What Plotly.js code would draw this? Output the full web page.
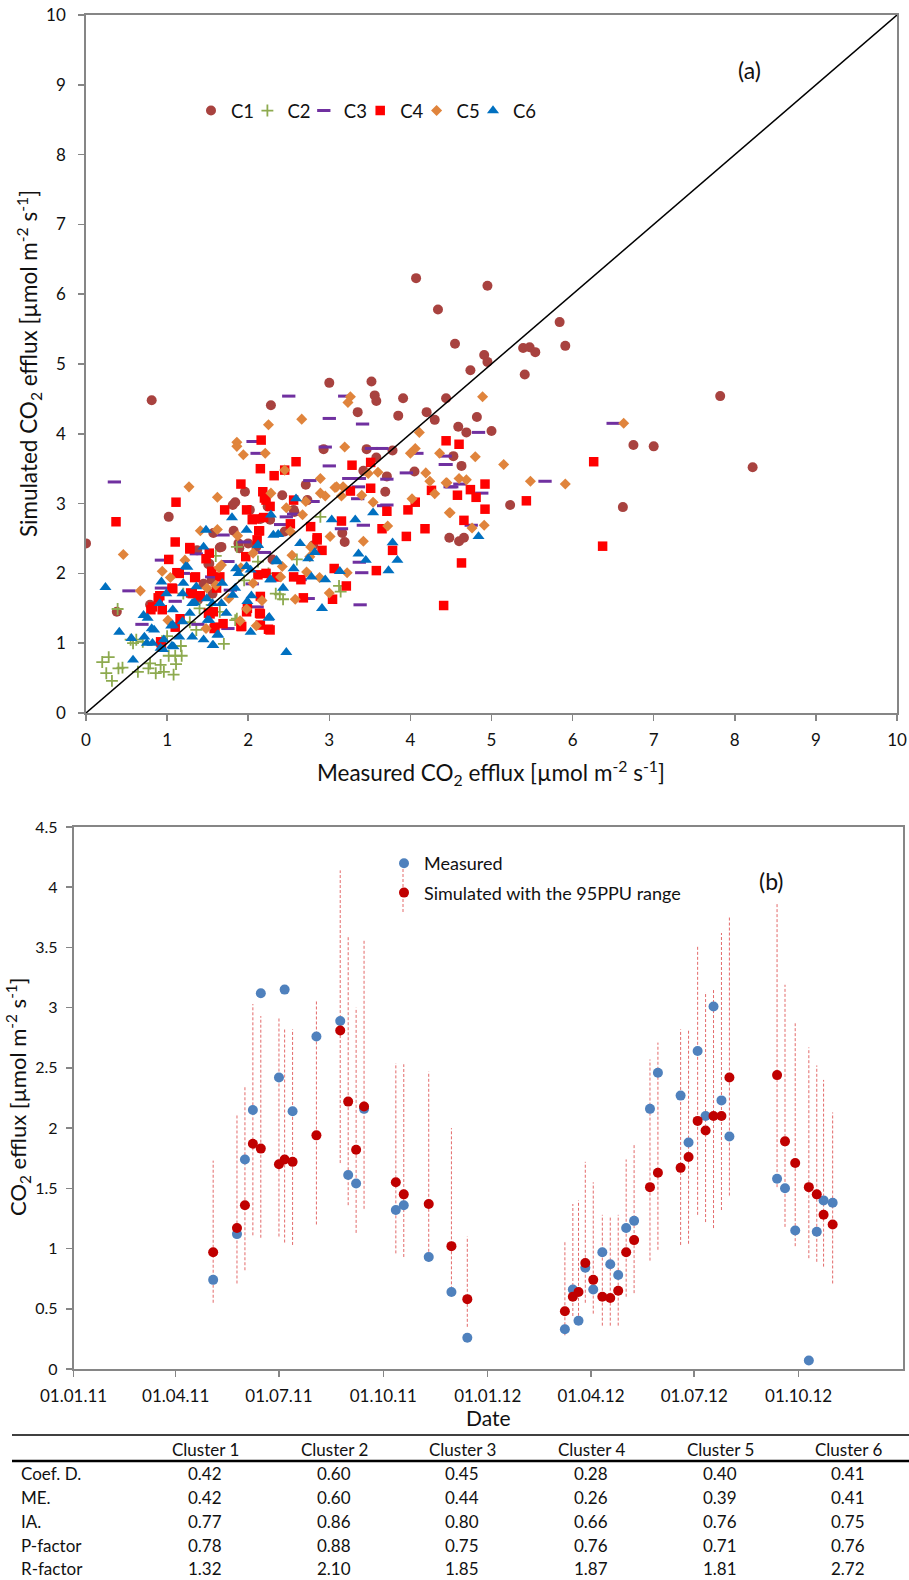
<!DOCTYPE html>
<html>
<head>
<meta charset="utf-8">
<script src="https://cdn.plot.ly/plotly-3.0.1.min.js"></script>
<style>
  html, body { margin: 0; padding: 0; background: #ffffff; }
  #chart { width: 909px; height: 1580px; }
</style>
</head>
<body>
<div id="chart"></div>
<script>
// ---------------- Panel (a): simulated vs measured, per cluster ----------------
const c1Points = [[0.00,2.43],[0.81,4.48],[0.38,1.45],[4.07,6.23],[4.34,5.78],[4.95,6.12],[4.55,5.29],[5.84,5.60],[5.91,5.26],[5.39,5.23],[5.47,5.24],[5.54,5.17],[5.41,4.85],[4.91,5.13],[4.95,5.03],[4.74,4.91],[7.82,4.54],[4.44,4.51],[3.00,4.73],[3.52,4.75],[3.56,4.55],[3.58,4.47],[3.91,4.51],[2.28,4.41],[3.35,4.31],[3.85,4.26],[4.20,4.31],[4.30,4.20],[4.82,4.24],[4.59,4.10],[4.69,4.02],[5.00,4.04],[6.75,3.84],[7.00,3.82],[8.22,3.52],[4.53,3.68],[4.63,3.54],[5.23,2.98],[6.62,2.95],[4.48,2.51],[4.60,2.46],[4.66,2.51],[2.93,3.78],[3.46,3.78],[3.58,3.66],[3.78,3.76],[4.05,3.46],[3.71,3.39],[3.69,3.17],[2.71,3.27],[2.42,3.12],[1.96,3.17],[1.81,2.98],[1.84,3.02],[1.02,2.81],[2.56,2.91],[2.73,3.05],[3.16,2.58],[3.19,2.45],[1.65,2.37],[1.82,2.61],[1.88,2.43],[1.57,2.58],[1.51,2.13],[1.55,1.91],[2.00,2.43],[2.10,2.38],[2.15,2.78],[2.27,2.77],[3.42,3.47],[2.57,2.88],[2.02,2.91],[1.67,2.38],[2.24,2.96],[1.56,1.71],[1.37,2.33],[0.79,1.55],[1.52,2.14],[1.89,2.36],[1.45,1.85],[2.30,2.20],[2.80,2.40],[2.45,2.60],[1.38,1.62]];
const c2Points = [[0.20,0.73],[0.28,0.80],[0.25,0.57],[0.32,0.46],[0.40,0.64],[0.45,0.65],[0.39,1.49],[0.58,1.00],[0.62,1.05],[0.55,1.05],[0.64,0.59],[0.77,0.64],[0.79,0.71],[0.86,0.57],[0.96,0.59],[0.92,0.69],[1.02,0.82],[1.10,0.82],[1.18,0.82],[1.08,0.55],[1.11,0.70],[1.17,0.96],[1.36,1.19],[1.70,0.99],[1.86,1.35],[2.43,1.63],[2.39,1.70],[3.12,1.82],[3.14,1.74],[2.89,2.81],[2.12,2.17],[1.20,1.71],[1.86,2.38],[0.70,1.02],[1.84,1.33],[1.55,1.55],[1.95,1.90],[2.25,2.00],[1.65,1.45],[1.40,1.50],[2.34,1.71],[1.00,1.10],[1.28,1.30],[2.60,2.20],[1.60,2.25]];
const c3Points = [[0.35,3.31],[0.53,1.75],[2.50,4.54],[3.19,4.54],[3.00,4.22],[3.41,4.14],[2.06,3.89],[2.11,3.72],[2.95,3.81],[3.52,3.79],[3.65,3.79],[3.00,3.54],[3.37,3.36],[3.71,3.35],[3.95,3.44],[4.08,3.72],[4.44,3.56],[4.49,3.24],[2.76,3.33],[2.80,3.03],[3.42,2.69],[3.37,2.16],[3.40,2.01],[3.38,1.55],[2.47,2.81],[2.40,2.70],[1.69,2.55],[1.75,2.17],[1.36,2.28],[0.93,2.19],[0.93,1.79],[0.69,1.27],[1.38,1.27],[1.75,1.21],[2.11,1.52],[1.78,1.76],[2.31,1.91],[2.64,1.91],[2.74,1.64],[3.71,2.98],[6.50,4.15],[4.84,4.02],[4.43,3.68],[4.43,3.56],[4.51,3.24],[4.61,3.28],[5.66,3.32],[4.88,3.15],[4.75,2.69],[3.24,3.36],[3.36,3.24],[3.35,3.07],[3.67,2.97],[3.15,2.64],[2.56,2.85],[1.95,2.45],[1.20,2.00],[1.55,1.95],[2.20,2.30],[1.10,1.60],[2.05,1.85]];
const c4Points = [[0.37,2.74],[1.11,3.02],[1.10,2.45],[1.02,2.20],[1.28,2.35],[1.12,2.01],[1.07,1.78],[1.35,1.95],[1.29,1.72],[1.41,1.68],[1.55,2.03],[1.52,2.29],[0.89,1.65],[0.82,1.52],[0.94,1.48],[0.93,1.00],[1.10,1.23],[1.16,1.35],[1.51,1.43],[1.59,1.23],[1.53,1.42],[1.71,2.91],[1.91,3.28],[1.98,2.91],[2.16,3.91],[2.15,3.50],[2.18,3.17],[2.20,3.08],[2.27,2.96],[2.08,2.78],[2.19,2.80],[2.13,2.61],[2.11,2.48],[1.97,2.24],[2.32,3.40],[2.45,3.48],[2.59,3.60],[2.52,2.71],[2.56,3.05],[2.77,2.67],[2.85,2.51],[2.91,2.33],[3.04,1.63],[3.15,2.75],[3.21,1.82],[3.26,3.18],[3.28,3.55],[3.51,3.22],[3.51,3.59],[3.58,2.04],[3.65,2.64],[3.71,2.89],[3.78,2.33],[3.95,2.53],[3.97,2.91],[4.06,3.02],[4.18,2.64],[4.26,3.19],[4.44,3.90],[4.41,1.54],[4.58,3.12],[2.27,1.19],[2.15,1.26],[2.15,1.42],[1.92,1.24],[1.98,1.45],[2.15,1.67],[2.35,1.95],[2.56,1.95],[2.68,1.65],[1.65,1.95],[1.61,1.79],[4.60,3.85],[6.26,3.60],[4.92,3.28],[4.74,3.20],[4.81,3.09],[4.92,2.92],[5.43,3.04],[4.66,2.76],[6.37,2.39],[4.63,2.15],[2.22,3.05],[2.05,2.77],[2.14,2.61],[1.28,2.37],[1.48,2.21],[1.15,2.00],[1.34,1.94],[1.06,1.79],[0.91,1.68],[1.31,1.71],[1.57,1.45],[1.69,1.28],[0.92,1.02],[1.58,1.21],[0.80,1.48],[1.91,1.24],[2.14,1.43],[2.25,1.20],[2.12,1.98],[1.99,1.50],[2.22,2.00],[2.65,1.91],[3.06,2.07],[2.85,2.48]];
const c5Points = [[0.46,2.27],[0.67,1.75],[1.27,3.24],[1.62,3.09],[1.86,3.88],[1.86,3.82],[1.94,3.70],[2.21,3.72],[2.25,4.13],[2.66,4.21],[2.45,3.48],[2.89,3.36],[3.19,3.81],[3.26,4.53],[3.23,4.45],[4.11,4.02],[4.06,3.79],[4.00,3.72],[4.36,3.72],[4.19,3.44],[4.24,3.32],[4.30,3.14],[4.45,3.30],[4.49,2.87],[3.60,3.45],[3.40,3.12],[3.54,3.02],[3.72,2.68],[3.42,2.46],[4.02,3.07],[2.89,3.15],[2.95,3.11],[3.07,3.23],[3.17,3.24],[3.01,2.53],[2.71,3.03],[2.67,2.84],[2.47,2.94],[2.28,3.15],[2.42,2.10],[2.54,2.26],[3.00,1.72],[3.22,2.01],[2.88,1.94],[2.58,1.63],[2.10,1.25],[1.90,1.32],[2.17,1.61],[1.98,1.49],[1.48,1.21],[0.94,2.03],[1.04,1.94],[1.22,2.19],[1.41,2.61],[1.62,2.63],[1.87,2.54],[1.91,2.08],[1.76,1.64],[2.06,2.29],[1.49,1.79],[1.64,2.08],[2.76,2.24],[2.72,2.02],[4.89,4.53],[6.63,4.15],[4.80,3.67],[5.15,3.56],[4.44,3.30],[4.60,3.36],[4.69,3.34],[5.48,3.32],[5.91,3.28],[4.48,2.87],[4.91,2.69],[4.76,2.65],[1.60,1.83],[1.67,2.12],[2.06,1.86],[2.40,1.95],[1.01,1.33],[3.48,3.43],[2.77,2.38],[2.52,2.60],[3.15,3.11],[3.09,3.24]];
const c6Points = [[0.24,1.80],[0.41,1.16],[0.56,1.07],[0.58,0.76],[1.48,2.62],[1.25,2.09],[0.93,1.88],[1.20,1.86],[1.36,1.81],[1.19,1.71],[1.80,2.80],[1.98,2.62],[2.12,2.40],[2.28,2.84],[2.59,3.07],[2.31,2.55],[2.37,2.56],[2.64,2.43],[2.74,2.21],[2.82,2.30],[3.03,2.77],[3.32,2.77],[3.54,2.87],[3.36,2.28],[3.45,2.19],[3.78,2.44],[3.84,2.19],[3.73,2.04],[3.13,2.03],[2.95,1.91],[2.78,1.95],[2.91,1.50],[2.47,0.87],[2.26,1.37],[2.03,1.16],[1.57,0.97],[1.63,1.12],[1.45,1.05],[1.31,1.09],[1.08,0.95],[1.05,1.25],[0.95,0.91],[0.75,1.00],[0.71,1.40],[0.81,1.21],[0.91,1.57],[1.52,1.33],[1.73,1.43],[2.35,2.17],[2.56,2.07],[2.27,1.91],[2.43,1.79],[1.88,2.00],[1.98,2.10],[2.04,1.68],[1.84,1.79],[1.67,1.57],[1.49,1.64],[1.34,1.58],[1.28,1.43],[1.15,1.09],[1.45,2.38],[0.99,1.71],[4.84,2.53],[0.76,1.36],[0.84,1.19],[0.72,1.09],[0.82,1.00],[0.92,0.93],[0.96,1.05],[1.06,0.96],[1.07,1.26],[1.19,1.31],[1.23,2.10],[1.31,1.57],[1.50,1.33],[1.56,1.57],[1.68,1.86],[1.81,1.69],[1.62,1.12],[1.56,0.97],[1.85,2.07],[1.99,1.60],[2.12,2.41],[2.35,2.19],[2.03,2.05],[2.28,1.91],[2.25,1.36],[1.07,1.48]];
const seriesNames = ["C1","C2","C3","C4","C5","C6"];
const oneToOne = [0, 10];

// ---------------- Panel (b): time series ----------------
const sampleDates = ["2011-05-04","2011-05-25","2011-06-01","2011-06-08","2011-06-15","2011-07-01","2011-07-06","2011-07-13","2011-08-03","2011-08-24","2011-08-31","2011-09-07","2011-09-14","2011-10-12","2011-10-19","2011-11-10","2011-11-30","2011-12-14","2012-03-09","2012-03-16","2012-03-21","2012-03-27","2012-04-03","2012-04-11","2012-04-18","2012-04-25","2012-05-02","2012-05-09","2012-05-23","2012-05-30","2012-06-19","2012-06-26","2012-07-04","2012-07-11","2012-07-18","2012-07-25","2012-08-01","2012-09-12","2012-09-19","2012-09-28","2012-10-10","2012-10-17","2012-10-23","2012-10-31"];
const measured  = [0.74,1.12,1.74,2.15,3.12,2.42,3.15,2.14,2.76,2.89,1.61,1.54,2.16,1.32,1.36,0.93,0.64,0.26,0.33,0.66,0.40,0.84,0.66,0.97,0.87,0.78,1.17,1.23,2.16,2.46,2.27,1.88,2.64,2.10,3.01,2.23,1.93,1.58,1.50,1.15,0.07,1.14,1.40,1.38];
const simulated = [0.97,1.17,1.36,1.87,1.83,1.70,1.74,1.72,1.94,2.81,2.22,1.82,2.18,1.55,1.45,1.37,1.02,0.58,0.48,0.60,0.64,0.88,0.74,0.60,0.59,0.65,0.97,1.07,1.51,1.63,1.67,1.76,2.06,1.98,2.10,2.10,2.42,2.44,1.89,1.71,1.51,1.45,1.28,1.20];
const ppuLow    = [0.55,0.71,0.82,1.11,1.09,1.10,1.05,1.03,1.20,1.71,1.36,1.13,1.33,0.96,0.93,0.89,0.62,0.35,0.28,0.44,0.40,0.55,0.46,0.36,0.36,0.36,0.60,0.63,0.90,0.99,1.03,1.04,1.28,1.22,1.17,1.32,1.44,1.51,1.18,1.02,0.92,0.89,0.85,0.71];
const ppuHigh   = [1.73,2.12,2.34,3.03,2.93,2.91,2.83,2.82,3.06,4.14,3.59,3.00,3.57,2.54,2.53,2.47,2.00,1.10,1.06,1.37,1.40,1.72,1.55,1.28,1.26,1.28,1.74,1.87,2.57,2.71,2.82,2.82,3.51,3.13,3.15,3.62,3.76,3.86,3.19,2.87,2.67,2.52,2.40,2.13];
const dateTickVals = ["2011-01-01","2011-04-01","2011-07-01","2011-10-01","2012-01-01","2012-04-01","2012-07-01","2012-10-01"];
const dateTickText = ["01.01.11","01.04.11","01.07.11","01.10.11","01.01.12","01.04.12","01.07.12","01.10.12"];

// ---------------- Table ----------------
const tableHeaders = ["Cluster 1","Cluster 2","Cluster 3","Cluster 4","Cluster 5","Cluster 6"];
const rowLabels = ["Coef. D.","ME.","IA.","P-factor","R-factor"];
const coefD   = ["0.42","0.60","0.45","0.28","0.40","0.41"];
const meVals  = ["0.42","0.60","0.44","0.26","0.39","0.41"];
const iaVals  = ["0.77","0.86","0.80","0.66","0.76","0.75"];
const pFactor = ["0.78","0.88","0.75","0.76","0.71","0.76"];
const rFactor = ["1.32","2.10","1.85","1.87","1.81","2.72"];

// ---------------- Build figure ----------------
const W = 909, H = 1580;
const px = v => v / W;
const py = v => 1 - v / H;
const FONT = 'Lato, "Open Sans", "DejaVu Sans", sans-serif';
const AX = '#868686';
const TXT = '#111111';

const styles = [
  {symbol:'circle', color:'#A8423F', size:10},
  {symbol:'cross-thin', color:'#8DAA4F', size:8.5, line:{color:'#8DAA4F', width:1.8}},
  {symbol:'line-ew', color:'#7030A0', size:9.5, line:{color:'#7030A0', width:3}},
  {symbol:'square', color:'#FF0000', size:9.5},
  {symbol:'diamond', color:'#E0843C', size:8.5},
  {symbol:'triangle-up', color:'#0070C0', size:10.5}
];
const allPoints = [c1Points,c2Points,c3Points,c4Points,c5Points,c6Points];
// one small legend per cluster so the entries sit at an even pitch
const clusterLegendIds = ['legend','legend3','legend4','legend5','legend6','legend7'];

const traces = [];
allPoints.forEach((pts, i) => {
  const s = styles[i];
  traces.push({
    type:'scatter', mode:'markers', name: seriesNames[i],
    x: pts.map(p => p[0]), y: pts.map(p => p[1]),
    xaxis:'x', yaxis:'y', legend: clusterLegendIds[i],
    marker:{symbol:s.symbol, color:s.color, size:s.size, line: s.line || {width:0}},
    hoverinfo:'x+y'
  });
});
traces.push({
  type:'scatter', mode:'lines', x: oneToOne, y: oneToOne, xaxis:'x', yaxis:'y',
  line:{color:'#000000', width:1.5}, showlegend:false, hoverinfo:'skip'
});

// 95PPU range bars
const barX = [], barY = [];
sampleDates.forEach((d, i) => { barX.push(d, d, null); barY.push(ppuLow[i], ppuHigh[i], null); });
traces.push({
  type:'scatter', mode:'lines', x: barX, y: barY, xaxis:'x2', yaxis:'y2',
  line:{color:'rgba(222,80,80,0.85)', width:1, dash:'3px,2px'}, showlegend:false, hoverinfo:'skip',
  connectgaps:false
});
traces.push({
  type:'scatter', mode:'markers', name:'Measured', x: sampleDates, y: measured,
  xaxis:'x2', yaxis:'y2', legend:'legend2', legendgroup:'meas',
  marker:{symbol:'circle', color:'#4F81BD', size:10, line:{width:0}}
});
traces.push({
  type:'scatter', mode:'markers', name:'Simulated with the 95PPU range', x: sampleDates, y: simulated,
  xaxis:'x2', yaxis:'y2', legend:'legend2', legendgroup:'sim',
  marker:{symbol:'circle', color:'#C00000', size:10, line:{width:0}}
});

const axisCommon = {
  showline:true, linecolor:AX, linewidth:1.8, mirror:true,
  ticks:'outside', ticklen:6, tickcolor:AX, tickwidth:1.5,
  showgrid:false, zeroline:false, automargin:false,
  tickfont:{family:FONT, size:17, color:TXT}
};

const annotations = [];
const shapes = [];
// axis titles
annotations.push({xref:'paper', yref:'paper', x:px(28), y:py(364), text:'Simulated CO<sub>2</sub> efflux [µmol m<sup>-2</sup> s<sup>-1</sup>]', textangle:-90, showarrow:false, font:{family:FONT, size:22.5, color:TXT}, xanchor:'center', yanchor:'middle'});
annotations.push({xref:'paper', yref:'paper', x:px(491), y:py(773), text:'Measured CO<sub>2</sub> efflux [µmol m<sup>-2</sup> s<sup>-1</sup>]', showarrow:false, font:{family:FONT, size:22.5, color:TXT}, xanchor:'center', yanchor:'middle'});
annotations.push({xref:'paper', yref:'paper', x:px(18), y:py(1097), text:'CO<sub>2</sub> efflux [µmol m<sup>-2</sup> s<sup>-1</sup>]', textangle:-90, showarrow:false, font:{family:FONT, size:22, color:TXT}, xanchor:'center', yanchor:'middle'});
annotations.push({xref:'paper', yref:'paper', x:px(488), y:py(1417), text:'Date', showarrow:false, font:{family:FONT, size:21, color:TXT}, xanchor:'center', yanchor:'middle'});
annotations.push({xref:'paper', yref:'paper', x:px(749), y:py(70), text:'(a)', showarrow:false, font:{family:FONT, size:23, color:TXT}, xanchor:'center', yanchor:'middle'});
annotations.push({xref:'paper', yref:'paper', x:px(771), y:py(881), text:'(b)', showarrow:false, font:{family:FONT, size:23, color:TXT}, xanchor:'center', yanchor:'middle'});

// table
const colX = [205, 334, 462, 591, 720, 848];
const rowY = [1473, 1497, 1521, 1545, 1568];
const tableRows = [coefD, meVals, iaVals, pFactor, rFactor];
const tFont = {family:FONT, size:17, color:TXT};
tableHeaders.forEach((h, j) => annotations.push({xref:'paper', yref:'paper', x:px(colX[j]), y:py(1449), text:h, showarrow:false, font:tFont, xanchor:'center', yanchor:'middle'}));
rowLabels.forEach((lab, i) => {
  annotations.push({xref:'paper', yref:'paper', x:px(19), y:py(rowY[i]), text:lab, showarrow:false, font:tFont, xanchor:'left', yanchor:'middle'});
  tableRows[i].forEach((v, j) => annotations.push({xref:'paper', yref:'paper', x:px(colX[j]), y:py(rowY[i]), text:v, showarrow:false, font:tFont, xanchor:'center', yanchor:'middle'}));
});
shapes.push({type:'line', xref:'paper', yref:'paper', x0:px(12), x1:1, y0:py(1435), y1:py(1435), line:{color:'#000000', width:1.3}});
shapes.push({type:'line', xref:'paper', yref:'paper', x0:px(12), x1:1, y0:py(1461), y1:py(1461), line:{color:'#000000', width:2.5}});
// legend glyph: range line through simulated marker
shapes.push({type:'line', xref:'paper', yref:'paper', x0:px(403), x1:px(403), y0:py(869), y1:py(914), line:{color:'rgba(222,80,80,0.85)', width:1, dash:'3px,2px'}, layer:'below'});

const legendA = {orientation:'h', xanchor:'left', yanchor:'middle', y:py(111), font:{family:FONT, size:18.5, color:TXT}, bgcolor:'rgba(0,0,0,0)', bordercolor:'rgba(0,0,0,0)', borderwidth:10, itemwidth:30, traceorder:'normal'};

const layout = {
  width:W, height:H, margin:{l:0, r:0, t:0, b:0},
  paper_bgcolor:'#ffffff', plot_bgcolor:'#ffffff',
  font:{family:FONT, color:TXT},
  showlegend:true,
  xaxis: Object.assign({}, axisCommon, {domain:[px(86), px(897)], range:[0,10], tick0:0, dtick:1, anchor:'y', ticklabelstandoff:5}),
  yaxis: Object.assign({}, axisCommon, {domain:[py(713), py(15)], range:[0,10], tick0:0, dtick:1, anchor:'x', ticklabelstandoff:9}),
  xaxis2: Object.assign({}, axisCommon, {domain:[px(73.6), px(903)], type:'date', range:['2011-01-01','2013-01-01'], tickmode:'array', tickvals:dateTickVals, ticktext:dateTickText, anchor:'y2', ticklabelstandoff:5}),
  yaxis2: Object.assign({}, axisCommon, {domain:[py(1369), py(827)], range:[0,4.5], tick0:0, dtick:0.5, anchor:'x2', ticklabelstandoff:5, tickfont:{family:FONT, size:16, color:TXT}}),
  legend2:{orientation:'v', x:px(384), y:py(845), xanchor:'left', yanchor:'top', font:{family:FONT, size:18, color:TXT}, bgcolor:'rgba(0,0,0,0)', itemwidth:30, traceorder:'grouped', tracegroupgap:3},
  annotations: annotations,
  shapes: shapes
};
clusterLegendIds.forEach((id, i) => { layout[id] = Object.assign({}, legendA, {x: px(181 + i * 56.4)}); });

Plotly.newPlot('chart', traces, layout, {staticPlot:true, displayModeBar:false});
</script>
</body>
</html>
